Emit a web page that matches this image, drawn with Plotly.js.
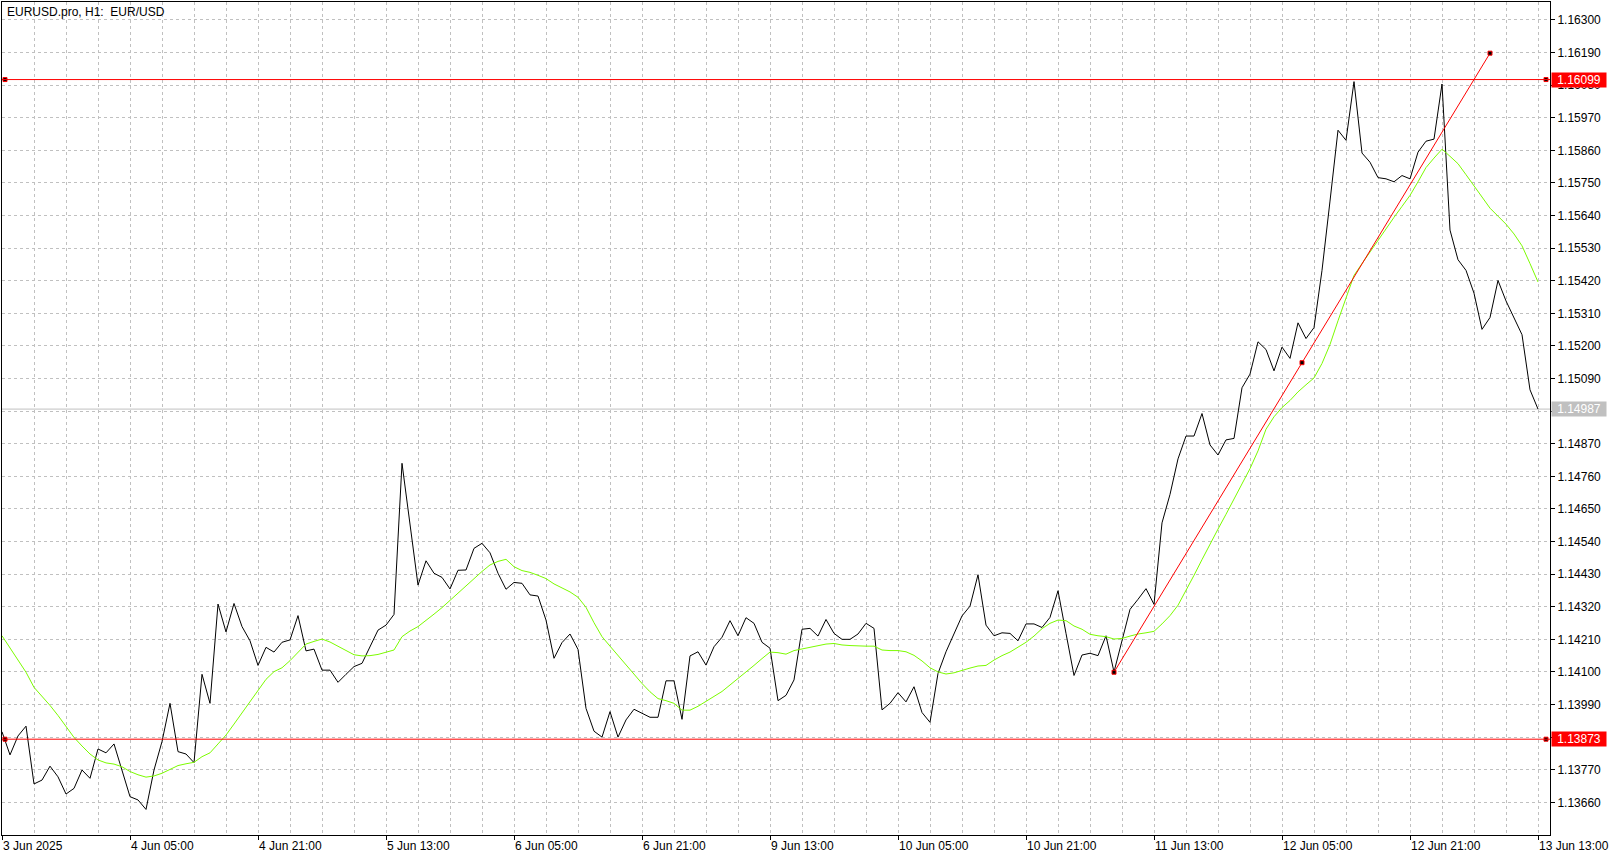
<!DOCTYPE html>
<html>
<head>
<meta charset="utf-8">
<script src="https://cdn.plot.ly/plotly-3.0.1.min.js"></script>
<style>
html,body{margin:0;padding:0;background:#fff;}
#chart{width:1619px;height:859px;}
</style>
</head>
<body>
<div id="chart"></div>
<script>
// EURUSD.pro H1 close prices (one per hourly bar, 3 Jun 13:00 .. 13 Jun 13:00)
const priceClose = [
1.13898,1.13820,1.13884,1.13917,1.13722,1.13735,1.13782,1.13746,1.13688,1.13707,
1.13769,1.13741,1.13840,1.13827,1.13857,1.13769,1.13679,1.13668,1.13636,1.13769,
1.13865,1.13994,1.13831,1.13823,1.13794,1.14092,1.13994,1.14329,1.14235,1.14331,
1.14253,1.14205,1.14122,1.14183,1.14167,1.14200,1.14208,1.14290,1.14171,1.14177,
1.14106,1.14106,1.14065,1.14092,1.14118,1.14129,1.14185,1.14241,1.14258,1.14294,
1.14804,1.14596,1.14393,1.14475,1.14433,1.14419,1.14380,1.14443,1.14444,1.14517,
1.14534,1.14502,1.14433,1.14379,1.14402,1.14399,1.14360,1.14356,1.14275,1.14146,
1.14199,1.14228,1.14176,1.13977,1.13900,1.13880,1.13966,1.13880,1.13938,1.13974,
1.13960,1.13947,1.13947,1.14070,1.14070,1.13940,1.14154,1.14168,1.14123,1.14185,
1.14217,1.14273,1.14222,1.14283,1.14264,1.14200,1.14180,1.14003,1.14021,1.14073,
1.14244,1.14247,1.14221,1.14277,1.14230,1.14210,1.14210,1.14228,1.14264,1.14247,
1.13972,1.13994,1.14030,1.13999,1.14050,1.13963,1.13930,1.14095,1.14168,1.14230,
1.14289,1.14322,1.14428,1.14258,1.14222,1.14232,1.14230,1.14205,1.14262,1.14262,
1.14250,1.14284,1.14374,1.14230,1.14088,1.14157,1.14163,1.14155,1.14222,1.14100,
1.14208,1.14311,1.14345,1.14381,1.14328,1.14603,1.14699,1.14819,1.14896,1.14896,
1.14972,1.14866,1.14832,1.14883,1.14888,1.15059,1.15105,1.15214,1.15188,1.15116,
1.15196,1.15158,1.15278,1.15225,1.15262,1.15455,1.15689,1.15928,1.15894,1.16092,
1.15851,1.15820,1.15768,1.15764,1.15754,1.15775,1.15764,1.15854,1.15891,1.15898,
1.16084,1.15591,1.15491,1.15455,1.15378,1.15256,1.15296,1.15421,1.15352,1.15292,
1.15238,1.15052,1.14987
];

// Moving average indicator values (green line), one per bar
const maValues = [
1.14222,1.14180,1.14138,1.14099,1.14048,1.14019,1.13987,1.13953,1.13917,1.13879,
1.13850,1.13823,1.13803,1.13793,1.13789,1.13780,1.13764,1.13753,1.13745,1.13749,
1.13758,1.13772,1.13784,1.13790,1.13795,1.13814,1.13827,1.13857,1.13887,1.13924,
1.13962,1.14003,1.14041,1.14075,1.14101,1.14114,1.14138,1.14167,1.14194,1.14203,
1.14211,1.14201,1.14187,1.14173,1.14158,1.14154,1.14155,1.14159,1.14166,1.14174,
1.14219,1.14238,1.14253,1.14273,1.14295,1.14317,1.14342,1.14365,1.14391,1.14416,
1.14439,1.14461,1.14473,1.14480,1.14455,1.14442,1.14436,1.14426,1.14415,1.14397,
1.14383,1.14370,1.14352,1.14318,1.14266,1.14219,1.14187,1.14155,1.14123,1.14091,
1.14061,1.14033,1.14010,1.14003,1.13994,1.13971,1.13971,1.13984,1.14000,1.14016,
1.14034,1.14056,1.14077,1.14099,1.14122,1.14145,1.14167,1.14165,1.14160,1.14172,
1.14178,1.14183,1.14189,1.14194,1.14196,1.14191,1.14189,1.14187,1.14187,1.14187,
1.14174,1.14172,1.14172,1.14168,1.14156,1.14137,1.14114,1.14100,1.14093,1.14097,
1.14106,1.14113,1.14120,1.14122,1.14140,1.14155,1.14167,1.14183,1.14200,1.14221,
1.14246,1.14264,1.14275,1.14273,1.14255,1.14244,1.14227,1.14222,1.14219,1.14211,
1.14213,1.14221,1.14228,1.14232,1.14237,1.14262,1.14290,1.14325,1.14373,1.14426,
1.14479,1.14533,1.14582,1.14632,1.14683,1.14732,1.14786,1.14846,1.14919,1.14961,
1.14992,1.15016,1.15045,1.15069,1.15092,1.15141,1.15205,1.15285,1.15365,1.15438,
1.15478,1.15518,1.15557,1.15595,1.15634,1.15671,1.15708,1.15754,1.15802,1.15834,
1.15864,1.15840,1.15815,1.15778,1.15740,1.15703,1.15665,1.15638,1.15611,1.15578,
1.15538,1.15478,1.15416
];

// Time-axis labels (every 16 bars)
const xTickLabels = ["3 Jun 2025","4 Jun 05:00","4 Jun 21:00","5 Jun 13:00","6 Jun 05:00",
  "6 Jun 21:00","9 Jun 13:00","10 Jun 05:00","10 Jun 21:00","11 Jun 13:00",
  "12 Jun 05:00","12 Jun 21:00","13 Jun 13:00"];
const barsPerLabel = 16;

// Price-axis labels
const yTickLabels = ["1.13660","1.13770","1.13880","1.13990","1.14100","1.14210","1.14320",
  "1.14430","1.14540","1.14650","1.14760","1.14870","1.14980","1.15090","1.15200","1.15310",
  "1.15420","1.15530","1.15640","1.15750","1.15860","1.15970","1.16080","1.16190","1.16300"];

// Drawn objects
const hLevels = [1.16099, 1.13873];
const hLevelAnchorBars = [0.375, 193];
const lastPrice = 1.14987;
const trendBars = [139, 186];
const trendPrices = [1.14099, 1.16188];

const FONT = 'Liberation Sans, Arial, sans-serif';
const GRID = '#c0c0c0';
const bars = priceClose.map((_, i) => i);
const tickVals = xTickLabels.map((_, k) => k * barsPerLabel);
const yTickVals = yTickLabels.map(s => parseFloat(s));

const markerStyle = {symbol: 'square', size: 4, color: '#000', line: {color: '#ff0000', width: 1}};

const traces = [
  {x: bars, y: priceClose, type: 'scatter', mode: 'lines', line: {color: '#000000', width: 1}, hoverinfo: 'skip'},
  {x: bars, y: maValues, type: 'scatter', mode: 'lines', line: {color: '#7cfc00', width: 1}, hoverinfo: 'skip'},
  {x: trendBars, y: trendPrices, type: 'scatter', mode: 'lines', line: {color: '#ff0000', width: 1}, hoverinfo: 'skip'},
  {x: [trendBars[0], (trendBars[0] + trendBars[1]) / 2, trendBars[1]],
   y: [trendPrices[0], (trendPrices[0] + trendPrices[1]) / 2, trendPrices[1]],
   type: 'scatter', mode: 'markers', marker: markerStyle, hoverinfo: 'skip', cliponaxis: false}
];
hLevels.forEach(lv => {
  traces.push({x: hLevelAnchorBars, y: [lv, lv], type: 'scatter', mode: 'markers',
    marker: markerStyle, hoverinfo: 'skip', cliponaxis: false});
});

const shapes = hLevels.map(lv => ({type: 'line', xref: 'paper', x0: 0, x1: 1, yref: 'y', y0: lv, y1: lv,
  line: {color: '#ff0000', width: 1}, layer: 'above'}));
shapes.unshift({type: 'line', xref: 'paper', x0: 0, x1: 1, yref: 'y', y0: lastPrice, y1: lastPrice,
  line: {color: '#c0c0c0', width: 1}, layer: 'below'});

const annotations = hLevels.map(lv => ({
  xref: 'paper', yref: 'y', x: 1, y: lv, xanchor: 'left', yanchor: 'middle', xshift: 1,
  text: lv.toFixed(5), showarrow: false, bgcolor: '#ff0000', width: 52, height: 12, borderpad: 1,
  align: 'center', font: {family: FONT, size: 12, color: '#ffffff'}
}));
annotations.push({
  xref: 'paper', yref: 'y', x: 1, y: lastPrice, xanchor: 'left', yanchor: 'middle', xshift: 1,
  text: lastPrice.toFixed(5), showarrow: false, bgcolor: '#c0c0c0', width: 52, height: 12, borderpad: 1,
  align: 'center', font: {family: FONT, size: 12, color: '#ffffff'}
});

const layout = {
  width: 1619, height: 859,
  margin: {l: 2, r: 69, t: 2, b: 24, pad: 0},
  paper_bgcolor: '#ffffff', plot_bgcolor: '#ffffff',
  showlegend: false,
  font: {family: FONT, size: 12, color: '#000'},
  title: {text: 'EURUSD.pro, H1:\u00a0 EUR/USD', xref: 'container', yref: 'container',
    x: 7 / 1619, xanchor: 'left', y: 1 - 12 / 859, yanchor: 'middle',
    font: {family: FONT, size: 12, color: '#000'}},
  xaxis: {
    range: [0, 193.5], tickmode: 'array', tickvals: tickVals, ticktext: xTickLabels,
    ticks: 'outside', ticklen: 4, tickcolor: '#000', tickwidth: 1,
    ticklabelposition: 'outside right',
    tickfont: {family: FONT, size: 12, color: '#000'},
    showline: true, linecolor: '#000', linewidth: 1, mirror: true,
    showgrid: true, gridcolor: GRID, gridwidth: 1, griddash: '3px,3px',
    minor: {tickmode: 'linear', tick0: 0, dtick: 4, showgrid: true, gridcolor: GRID, gridwidth: 1, griddash: '3px,3px', ticks: ''},
    zeroline: false, fixedrange: true
  },
  yaxis: {
    side: 'right', range: [1.135497, 1.163607],
    tickmode: 'array', tickvals: yTickVals, ticktext: yTickLabels,
    ticks: 'outside', ticklen: 4, tickcolor: '#000', tickwidth: 1,
    tickfont: {family: FONT, size: 12, color: '#000'},
    showline: true, linecolor: '#000', linewidth: 1, mirror: true,
    showgrid: true, gridcolor: GRID, gridwidth: 1, griddash: '3px,3px',
    zeroline: false, fixedrange: true
  },
  shapes: shapes,
  annotations: annotations
};

Plotly.newPlot('chart', traces, layout, {displayModeBar: false, staticPlot: true});
</script>
</body>
</html>
